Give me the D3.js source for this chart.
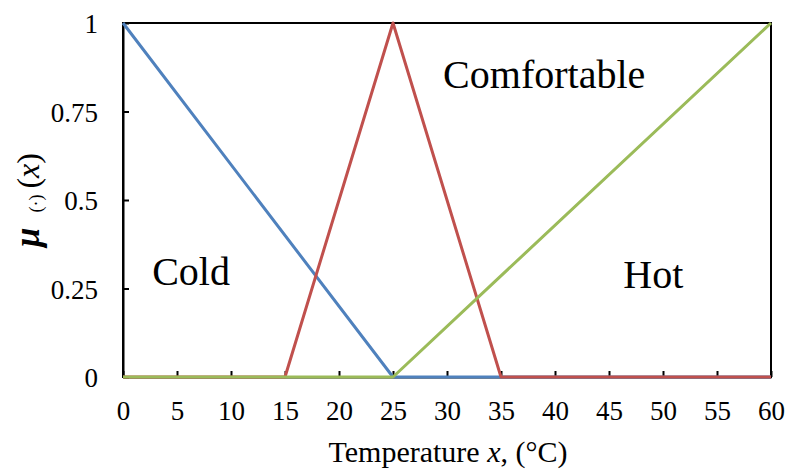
<!DOCTYPE html>
<html>
<head>
<meta charset="utf-8">
<script src="https://cdn.jsdelivr.net/npm/d3@7"></script>
<style>
  html, body { margin: 0; padding: 0; background: #fff; }
  svg { display: block; }
</style>
</head>
<body>
<svg id="chart" width="789" height="470"></svg>
<script>
// Membership functions over temperature (°C)
const xTicks = [0, 5, 10, 15, 20, 25, 30, 35, 40, 45, 50, 55, 60];
const yTicks = [0, 0.25, 0.5, 0.75, 1];
const yTickLabels = ["0", "0.25", "0.5", "0.75", "1"];

const coldX = [0, 25, 60];
const coldY = [1, 0, 0];
const comfortX = [0, 15, 25, 35, 60];
const comfortY = [0, 0, 1, 0, 0];
const hotX = [0, 25, 60];
const hotY = [0, 0, 1];

const seriesNames = ["Cold", "Comfortable", "Hot"];
const seriesColors = ["#4F81BD", "#C0504D", "#9BBB59"];

const SERIF = "Liberation Serif, serif";
const svg = d3.select("#chart");
const plotLeft = 123, plotRight = 771, plotTop = 23, plotBottom = 377;

const x = d3.scaleLinear().domain([0, 60]).range([plotLeft, plotRight]);
const y = d3.scaleLinear().domain([0, 1]).range([plotBottom, plotTop]);

// Plot frame
svg.append("rect")
  .attr("x", plotLeft).attr("y", plotTop)
  .attr("width", plotRight - plotLeft).attr("height", plotBottom - plotTop)
  .attr("fill", "none").attr("stroke", "#000").attr("stroke-width", 2);

// Axes with inward ticks
const xAxis = svg.append("g")
  .attr("transform", `translate(0,${plotBottom})`)
  .call(d3.axisBottom(x).tickValues(xTicks).tickSizeInner(-6).tickSizeOuter(0).tickPadding(24));
xAxis.select(".domain").attr("stroke-width", 2);
xAxis.selectAll(".tick line").attr("stroke-width", 2);
xAxis.selectAll("text").attr("font-size", 27).attr("font-family", SERIF).attr("fill", "#000");

const yAxis = svg.append("g")
  .attr("transform", `translate(${plotLeft},0)`)
  .call(d3.axisLeft(y).tickValues(yTicks).tickFormat((d, i) => yTickLabels[i])
    .tickSizeInner(-6).tickSizeOuter(0).tickPadding(25));
yAxis.select(".domain").attr("stroke-width", 2);
yAxis.selectAll(".tick line").attr("stroke-width", 2);
yAxis.selectAll("text").attr("font-size", 27).attr("font-family", SERIF).attr("fill", "#000")
  .attr("dy", "0.36em");

// Series lines
const line = d3.line().x(d => x(d[0])).y(d => y(d[1]));
const series = [
  d3.zip(coldX, coldY),
  d3.zip(comfortX, comfortY),
  d3.zip(hotX, hotY)
];
series.forEach((pts, i) => {
  svg.append("path")
    .datum(pts)
    .attr("d", line)
    .attr("fill", "none")
    .attr("stroke", seriesColors[i])
    .attr("stroke-width", 3)
    .attr("stroke-linejoin", "round");
});

// Region labels
const regionLabels = [
  { name: seriesNames[0], t: 6.3, m: 0.26 },
  { name: seriesNames[1], t: 39.0, m: 0.816 },
  { name: seriesNames[2], t: 49.1, m: 0.252 }
];
svg.selectAll("text.region")
  .data(regionLabels)
  .join("text")
  .attr("class", "region")
  .attr("x", d => x(d.t)).attr("y", d => y(d.m))
  .attr("text-anchor", "middle")
  .attr("font-family", SERIF).attr("font-size", 40)
  .text(d => d.name);

// Axis titles
svg.append("text")
  .attr("x", 448).attr("y", 462)
  .attr("text-anchor", "middle").attr("font-family", SERIF).attr("font-size", 30)
  .call(t => {
    t.append("tspan").text("Temperature ");
    t.append("tspan").attr("font-style", "italic").text("x");
    t.append("tspan").text(", (°C)");
  });

const yTitle = svg.append("text")
  .attr("transform", "translate(39,247) rotate(-90)")
  .attr("text-anchor", "start").attr("font-family", SERIF).attr("font-size", 32);
yTitle.append("tspan").attr("font-style", "italic").attr("font-weight", "bold").attr("font-size", 35).text("μ");
yTitle.append("tspan").attr("font-size", 18).attr("dx", 15).attr("dy", 3).text("(·)");
yTitle.append("tspan").attr("dx", 6).attr("dy", -3).text("(");
yTitle.append("tspan").attr("font-style", "italic").text("x");
yTitle.append("tspan").text(")");
</script>
</body>
</html>
